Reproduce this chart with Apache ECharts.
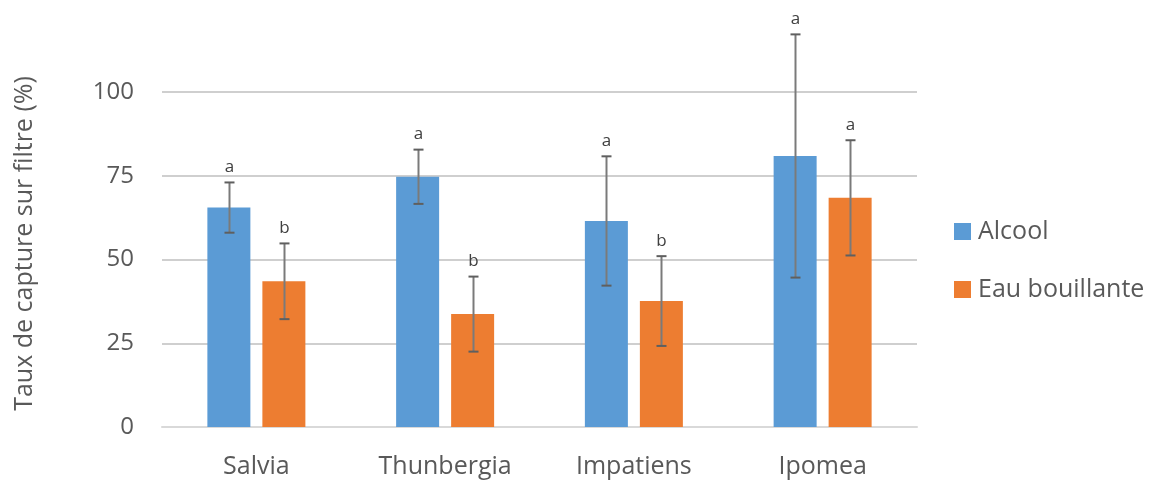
<!DOCTYPE html>
<html>
<head>
<meta charset="utf-8">
<script src="https://cdn.jsdelivr.net/npm/echarts@6/dist/echarts.min.js"></script>
<style>
html,body{margin:0;padding:0;background:#fff;}
#chart{width:1162px;height:487px;}
</style>
</head>
<body>
<div id="chart"></div>
<script>
var categories = ['Salvia', 'Thunbergia', 'Impatiens', 'Ipomea'];
var seriesNames = ['Alcool', 'Eau bouillante'];
var alcool = [65.5, 74.7, 61.5, 80.9];
var alcoolErr = [7.5, 8.1, 19.3, 36.3];
var alcoolLetters = ['a', 'a', 'a', 'a'];
var eau = [43.5, 33.7, 37.6, 68.4];
var eauErr = [11.3, 11.2, 13.4, 17.2];
var eauLetters = ['b', 'b', 'b', 'a'];
var yTicks = [0, 25, 50, 75, 100];

var FONT = '"Open Sans", "Noto Sans", sans-serif';
var BAR_W = 43, BAR_GAP = 12;

function errData(vals, errs, letters) {
  return vals.map(function (v, i) { return [i, v - errs[i], v + errs[i], letters[i]]; });
}

function errSeries(name, data, side) {
  return {
    type: 'custom',
    name: name + ' err',
    clip: false,
    z: 5,
    silent: true,
    data: data,
    encode: { x: 0, y: [1, 2] },
    renderItem: function (params, api) {
      var c = api.value(0);
      var lo = api.coord([c, api.value(1)]);
      var hi = api.coord([c, api.value(2)]);
      var off = side * (BAR_W + BAR_GAP) / 2;
      var x = Math.round(lo[0] + off) + 0.5;
      var capW = 5;
      var st = { stroke: '#5f5f5f', lineWidth: 2 };
      return {
        type: 'group',
        children: [
          { type: 'line', shape: { x1: x, y1: lo[1], x2: x, y2: hi[1] }, style: { stroke: '#7a7a7a', lineWidth: 2 } },
          { type: 'line', shape: { x1: x - capW, y1: hi[1], x2: x + capW, y2: hi[1] }, style: st },
          { type: 'line', shape: { x1: x - capW, y1: lo[1], x2: x + capW, y2: lo[1] }, style: st },
          { type: 'text', style: { text: api.value(3), x: x, y: hi[1] - 15, align: 'center', verticalAlign: 'middle',
              font: '17px ' + FONT, fill: '#404040' } }
        ]
      };
    }
  };
}

var chart = echarts.init(document.getElementById('chart'), null, { renderer: 'canvas' });
chart.setOption({
  animation: false,
  backgroundColor: '#ffffff',
  textStyle: { fontFamily: FONT },
  grid: { left: 162, right: 245, top: 92, bottom: 60, containLabel: false },
  legend: {
    orient: 'vertical',
    left: 949,
    top: 214,
    itemWidth: 17,
    itemHeight: 17,
    itemGap: 33,
    icon: 'rect',
    data: seriesNames,
    textStyle: { fontSize: 25, color: '#595959', fontFamily: FONT, lineHeight: 17, padding: [0, 0, 0, 2] }
  },
  graphic: [{
    type: 'text',
    left: 12,
    top: 'middle',
    rotation: Math.PI / 2,
    x: 0,
    style: { text: 'Taux de capture sur filtre (%)', font: '25px ' + FONT, fill: '#595959' }
  }],
  xAxis: {
    type: 'category',
    data: categories,
    axisLine: { show: true, lineStyle: { color: '#d9d9d9', width: 2 } },
    axisTick: { show: false },
    axisLabel: { fontSize: 25, color: '#595959', margin: 27, fontFamily: FONT }
  },
  yAxis: {
    type: 'value',
    min: 0,
    max: 100,
    interval: 25,
    axisLine: { show: false },
    axisTick: { show: false },
    axisLabel: { fontSize: 24, color: '#595959', margin: 28, fontFamily: FONT,
      formatter: function (v) { return yTicks.indexOf(v) >= 0 ? String(v) : ''; } },
    splitLine: { lineStyle: { color: '#cfcfcf', width: 2 } }
  },
  series: [
    { name: seriesNames[0], type: 'bar', data: alcool, barWidth: BAR_W, barGap: (BAR_GAP / BAR_W * 100) + '%',
      itemStyle: { color: '#5B9BD5' }, z: 2 },
    { name: seriesNames[1], type: 'bar', data: eau, barWidth: BAR_W,
      itemStyle: { color: '#ED7D31' }, z: 2 },
    errSeries(seriesNames[0], errData(alcool, alcoolErr, alcoolLetters), -1),
    errSeries(seriesNames[1], errData(eau, eauErr, eauLetters), 1)
  ]
});
</script>
</body>
</html>
